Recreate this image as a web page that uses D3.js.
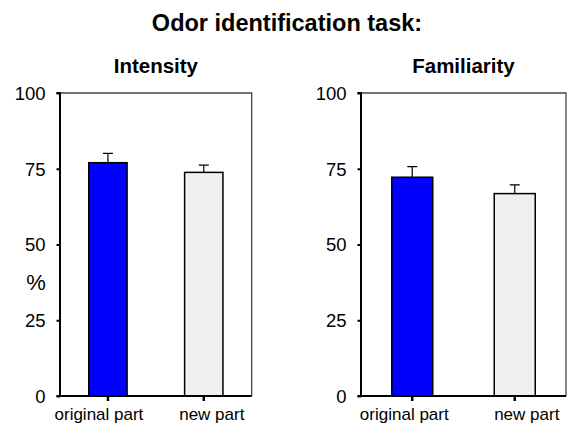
<!DOCTYPE html>
<html>
<head>
<meta charset="utf-8">
<script src="https://cdn.jsdelivr.net/npm/d3@7"></script>
<style>
  body { margin: 0; background: #fff; }
  svg { font-family: "Liberation Sans", Arial, sans-serif; }
</style>
</head>
<body>
<svg id="chart" width="577" height="429"></svg>
<script>
// chart values
const categories = ['original part', 'new part']
const panelTitles = ['Intensity', 'Familiarity']
const intensityMeans = [77, 73.8]
const intensityErrors = [3.1, 2.4]
const familiarityMeans = [72.2, 66.8]
const familiarityErrors = [3.5, 2.9]
const yTicks = [0, 25, 50, 75, 100]

const barColors = ['#0000ff', '#f0f0f0']

const svg = d3.select('#chart')

svg.append('text').attr('x', 287).attr('y', 31).attr('text-anchor', 'middle')
    .style('font-size', '23.5px').style('font-weight', 'bold').text('Odor identification task:')

const panels = [
    { title: panelTitles[0], means: intensityMeans, errors: intensityErrors, x0: 60, x1: 251.7, showPct: true, labelShift: [-9, 8] },
    { title: panelTitles[1], means: familiarityMeans, errors: familiarityErrors, x0: 361, x1: 566, showPct: false, labelShift: [-8, 12] }
]

const plotTop = 93
const plotBottom = 396

panels.forEach(p => {
    const g = svg.append('g')

    const x = d3.scaleBand().domain(categories).range([p.x0, p.x1]).paddingInner(0.6).paddingOuter(0.3)
    const y = d3.scaleLinear().domain([0, 100]).range([plotBottom, plotTop])

    // frame (top + right)
    g.append('path').attr('d', `M${p.x0},${plotTop}H${p.x1}V${plotBottom}`)
        .style('fill', 'none').style('stroke', '#444').style('stroke-width', 1.3)

    g.append('text').attr('x', (p.x0 + p.x1) / 2).attr('y', 73).attr('text-anchor', 'middle')
        .style('font-size', '20.5px').style('font-weight', 'bold').text(p.title)

    // bars
    g.selectAll('.bar').data(p.means).enter().append('rect')
        .attr('x', (d, i) => x(categories[i])).attr('width', x.bandwidth())
        .attr('y', d => y(d)).attr('height', d => y(0) - y(d))
        .style('fill', (d, i) => barColors[i]).style('stroke', 'black').style('stroke-width', 1.5)

    // error bars
    const cx = i => x(categories[i]) + x.bandwidth() / 2
    g.selectAll('.err').data(p.means).enter().append('path')
        .attr('d', (d, i) => `M${cx(i)},${y(d)}V${y(d + p.errors[i])}M${cx(i) - 5},${y(d + p.errors[i])}H${cx(i) + 5}`)
        .style('fill', 'none').style('stroke', 'black').style('stroke-width', 1.2)

    // axes
    const yAxis = g.append('g').attr('transform', `translate(${p.x0},0)`)
        .call(d3.axisLeft(y).tickValues(yTicks).tickSize(3.5).tickPadding(11))
    yAxis.select('.domain').attr('d', `M${-3.5},${plotTop}H0V${plotBottom}H-3.5`).style('stroke-width', 2)
    yAxis.selectAll('.tick line').style('stroke-width', 2)
    yAxis.selectAll('.tick text').style('font-size', '18.5px').attr('dy', '0.35em')

    const xAxis = g.append('g').attr('transform', `translate(0,${plotBottom})`)
        .call(d3.axisBottom(x).tickSize(5).tickPadding(7))
    xAxis.select('.domain').attr('d', `M${p.x0},0H${p.x1}`).style('stroke-width', 2)
    xAxis.selectAll('.tick line').style('stroke-width', 2.5)
    xAxis.selectAll('.tick text').style('font-size', '17px').attr('dx', (d, i) => p.labelShift[i])

    if (p.showPct) {
        g.append('text').attr('x', 36).attr('y', y(37.5)).attr('dy', '0.35em').attr('text-anchor', 'middle')
            .style('font-size', '22px').text('%')
    }
})
</script>
</body>
</html>
